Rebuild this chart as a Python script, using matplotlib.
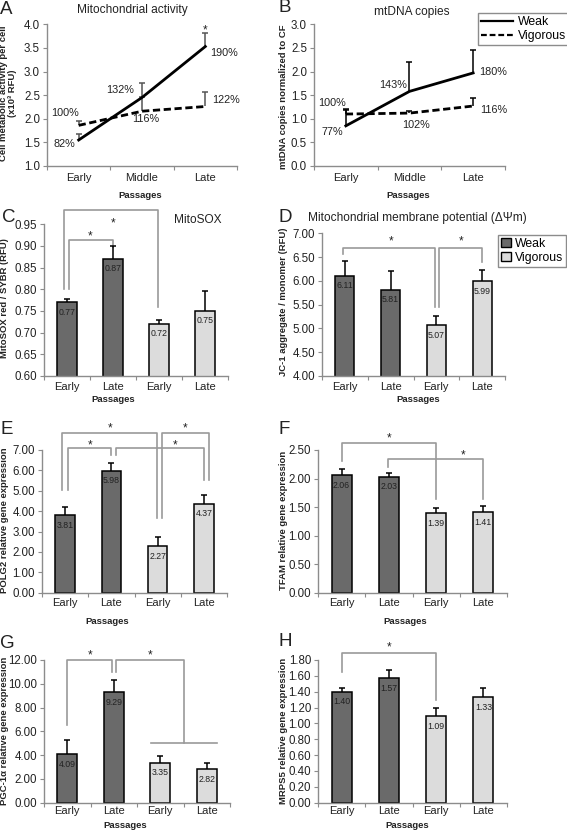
import matplotlib
matplotlib.use('Agg')
import matplotlib.pyplot as plt
import numpy as np
from matplotlib.patches import Patch
from matplotlib.lines import Line2D

plt.rcParams['font.family'] = ['Liberation Sans', 'DejaVu Sans']

# ---------------- data ----------------
passages3 = ['Early', 'Middle', 'Late']
passages4 = ['Early', 'Late', 'Early', 'Late']

act_weak = [1.55, 2.45, 3.53]
act_weak_err = [0.12, 0.30, 0.28]
act_vig = [1.86, 2.16, 2.26]
act_vig_err = [0.10, 0.30, 0.30]
act_weak_pct = ['82%', '132%', '190%']
act_vig_pct = ['100%', '116%', '122%']

mt_weak = [0.85, 1.58, 1.97]
mt_weak_err = [0.33, 0.62, 0.48]
mt_vig = [1.10, 1.12, 1.27]
mt_vig_err = [0.10, 0.05, 0.18]
mt_weak_pct = ['77%', '143%', '180%']
mt_vig_pct = ['100%', '102%', '116%']

mitosox = [0.77, 0.87, 0.72, 0.75]
mitosox_err = [0.008, 0.030, 0.010, 0.046]

jc1 = [6.11, 5.81, 5.07, 5.99]
jc1_err = [0.30, 0.39, 0.19, 0.24]

polg2 = [3.81, 5.98, 2.27, 4.37]
polg2_err = [0.37, 0.40, 0.45, 0.43]

tfam = [2.06, 2.03, 1.39, 1.41]
tfam_err = [0.10, 0.07, 0.09, 0.11]

pgc = [4.09, 9.29, 3.35, 2.82]
pgc_err = [1.21, 1.00, 0.60, 0.53]

mrps5 = [1.40, 1.57, 1.09, 1.33]
mrps5_err = [0.05, 0.10, 0.11, 0.12]

groups = ['Weak', 'Vigorous']

# ---------------- layout helpers ----------------
W, H = 567, 835
fig = plt.figure(figsize=(W / 100, H / 100), dpi=100)

def rect(l, r, t, b):
    return [l / W, 1 - b / H, (r - l) / W, (b - t) / H]

def ftxt(x, y, s, **kw):
    fig.text(x / W, 1 - y / H, s, **kw)

GRAY = '#8c8c8c'
BRK = '#9a9a9a'
DARK = '#6a6a6a'
LIGHT = '#dcdcdc'
TXT = '#222222'

def style(ax, ylim, yticks, fmt, cats, pad=5):
    ax.set_xlim(-0.5, len(cats) - 0.5)
    ax.set_ylim(*ylim)
    ax.set_yticks(yticks)
    ax.set_yticklabels([fmt % v for v in yticks], fontsize=8.3, color=TXT)
    ax.set_xticks(np.arange(len(cats) + 1) - 0.5)
    ax.set_xticklabels([])
    ax.set_xticks(np.arange(len(cats)), minor=True)
    ax.set_xticklabels(cats, minor=True, fontsize=8, color=TXT)
    ax.tick_params(axis='x', which='minor', length=0, pad=pad)
    ax.tick_params(axis='x', which='major', length=3, color=GRAY, direction='out')
    ax.tick_params(axis='y', length=3, color=GRAY, direction='out', pad=2)
    for s in ['top', 'right']:
        ax.spines[s].set_visible(False)
    for s in ['left', 'bottom']:
        ax.spines[s].set_color(GRAY)
        ax.spines[s].set_linewidth(1.0)

def upper_err(ax, x, vals, errs, color='black', lw=1.1):
    x = np.asarray(x, float)
    vals = np.asarray(vals, float)
    tops = vals + np.asarray(errs, float)
    ax.vlines(x, vals, tops, color=color, lw=lw, zorder=3, clip_on=False)
    ax.plot(x, tops, ls='none', marker='_', markersize=5, mew=lw, color=color,
            zorder=3, clip_on=False)

def bars(ax, vals, errs):
    x = np.arange(len(vals))
    colors = [DARK, DARK, LIGHT, LIGHT]
    ax.bar(x, vals, width=0.42, color=colors, edgecolor='black', linewidth=1.1,
           zorder=2)
    upper_err(ax, x, vals, errs)
    for xi, v in zip(x, vals):
        ax.annotate('%.2f' % v, (xi, v), xytext=(0, -10), textcoords='offset pixels',
                    ha='center', va='center', fontsize=6.3, color=TXT, zorder=4)

def bracket(ax, x1, x2, ytop, yl, yr):
    ax.plot([x1, x1, x2, x2], [yl, ytop, ytop, yr], color=BRK, lw=1.2,
            clip_on=False, zorder=1)

def star(ax, x, y):
    ax.annotate('*', (x, y), xytext=(0, -6), textcoords='offset pixels',
                ha='center', va='baseline', fontsize=8.5, color=TXT,
                annotation_clip=False)

def ylab(x, y, s):
    ftxt(x, y, s, rotation=90, ha='center', va='center', fontsize=6.8,
         fontweight='bold', color=TXT, linespacing=1.0)

def xlab(x, y):
    ftxt(x, y, 'Passages', ha='center', va='center', fontsize=6.8,
         fontweight='bold', color=TXT)

def letter(x, y, s):
    ftxt(x, y, s, ha='left', va='center', fontsize=13.5, color=TXT)

# ---------------- A ----------------
axA = fig.add_axes(rect(47, 237, 24.3, 166))
style(axA, (1.0, 4.0), np.arange(1.0, 4.01, 0.5), '%.1f', passages3)
x3 = np.arange(3)
axA.plot(x3, act_weak, color='black', lw=2, zorder=4)
axA.plot(x3, act_vig, color='black', lw=2, ls=(0, (2.6, 1.3)), zorder=4)
upper_err(axA, x3, act_vig, act_vig_err, color='#555555')
upper_err(axA, x3, act_weak, act_weak_err, color='#555555')
posA_w = [(-0.22, 1.46), (0.66, 2.61), (2.29, 3.39)]
posA_v = [(-0.22, 2.12), (1.06, 1.99), (2.33, 2.40)]
for (px, py), s in zip(posA_w, act_weak_pct):
    axA.text(px, py, s, ha='center', va='center', fontsize=7.8, color=TXT)
for (px, py), s in zip(posA_v, act_vig_pct):
    axA.text(px, py, s, ha='center', va='center', fontsize=7.8, color=TXT)
star(axA, 2.0, 3.94)
letter(0, 9, 'A')
ftxt(132, 10, 'Mitochondrial activity', ha='center', va='center', fontsize=8.6, color=TXT)
ylab(8, 93, 'Cell metabolic activity per cell\n(x10³ RFU)')
xlab(140, 196)

# ---------------- B ----------------
axB = fig.add_axes(rect(314, 505, 24.3, 166))
style(axB, (0.0, 3.0), np.arange(0.0, 3.01, 0.5), '%.1f', passages3)
axB.plot(x3, mt_weak, color='black', lw=2, zorder=4)
axB.plot(x3, mt_vig, color='black', lw=2, ls=(0, (2.6, 1.3)), zorder=4)
upper_err(axB, x3, mt_vig, mt_vig_err)
upper_err(axB, x3, mt_weak, mt_weak_err)
posB_w = [(-0.21, 0.72), (0.75, 1.71), (2.32, 1.99)]
posB_v = [(-0.22, 1.33), (1.10, 0.87), (2.32, 1.18)]
for (px, py), s in zip(posB_w, mt_weak_pct):
    axB.text(px, py, s, ha='center', va='center', fontsize=7.8, color=TXT)
for (px, py), s in zip(posB_v, mt_vig_pct):
    axB.text(px, py, s, ha='center', va='center', fontsize=7.8, color=TXT)
letter(279, 8, 'B')
ftxt(412, 12, 'mtDNA copies', ha='center', va='center', fontsize=8.6, color=TXT)
ylab(284, 97, 'mtDNA copies normalized to CF')
xlab(408, 196)
legB = fig.legend([Line2D([], [], color='black', lw=1.6),
                   Line2D([], [], color='black', lw=1.6, ls=(0, (2.6, 1.3)))],
                  groups, loc='upper left', bbox_to_anchor=(478 / W, 1 - 13 / H),
                  bbox_transform=fig.transFigure, fontsize=8.8, frameon=True,
                  fancybox=False, edgecolor=GRAY, framealpha=1, borderpad=0.25,
                  labelspacing=0.15, handlelength=2.6, handletextpad=0.4,
                  borderaxespad=0)
legB.get_frame().set_linewidth(1.0)

# ---------------- C ----------------
axC = fig.add_axes(rect(44, 228, 224.3, 376))
style(axC, (0.60, 0.95), np.arange(0.60, 0.951, 0.05), '%.2f', passages4, pad=4)
bars(axC, mitosox, mitosox_err)
bracket(axC, -0.07, 1.97, 0.983, 0.80, 0.76)
bracket(axC, 0.04, 1.0, 0.914, 0.80, 0.898)
star(axC, 1.0, 0.96)
star(axC, 0.5, 0.93)
letter(2, 217, 'C')
ftxt(198, 220, 'MitoSOX', ha='center', va='center', fontsize=8.6, color=TXT)
ylab(5, 298, 'MitoSOX red / SYBR (RFU)')
xlab(113, 399)

# ---------------- D ----------------
axD = fig.add_axes(rect(322, 505, 233.3, 376))
style(axD, (4.0, 7.0), np.arange(4.0, 7.01, 0.5), '%.2f', passages4, pad=4)
bars(axD, jc1, jc1_err)
bracket(axD, -0.04, 1.97, 6.70, 6.57, 5.45)
bracket(axD, 2.06, 3.0, 6.70, 5.45, 6.40)
star(axD, 1.0, 6.90)
star(axD, 2.54, 6.90)
letter(279, 218, 'D')
ftxt(417, 218, 'Mitochondrial membrane potential (ΔΨm)', ha='center', va='center',
     fontsize=8.6, color=TXT)
ylab(284, 302, 'JC-1 aggregate / monomer (RFU)')
xlab(418, 399)
legD = fig.legend([Patch(facecolor=DARK, edgecolor='black', lw=1.0),
                   Patch(facecolor=LIGHT, edgecolor='black', lw=1.0)],
                  groups, loc='upper left', bbox_to_anchor=(498 / W, 1 - 235 / H),
                  bbox_transform=fig.transFigure, fontsize=8.8, frameon=True,
                  fancybox=False, edgecolor=GRAY, framealpha=1, borderpad=0.25,
                  labelspacing=0.15, handlelength=0.8, handleheight=0.8,
                  handletextpad=0.3, borderaxespad=0)
legD.get_frame().set_linewidth(1.0)

# ---------------- E ----------------
axE = fig.add_axes(rect(42, 227, 450, 592.7))
style(axE, (0.0, 7.0), np.arange(0.0, 7.01, 1.0), '%.2f', passages4, pad=4)
bars(axE, polg2, polg2_err)
bracket(axE, -0.06, 1.99, 7.82, 5.04, 3.67)
bracket(axE, 0.06, 1.0, 7.08, 5.04, 6.75)
bracket(axE, 2.10, 3.12, 7.82, 3.67, 5.53)
bracket(axE, 1.09, 3.0, 7.08, 6.75, 5.53)
star(axE, 0.98, 8.22)
star(axE, 0.54, 7.39)
star(axE, 2.60, 8.22)
star(axE, 2.37, 7.39)
letter(0, 429, 'E')
ylab(5, 520, 'POLG2 relative gene expression')
xlab(107, 621)

# ---------------- F ----------------
axF = fig.add_axes(rect(318, 507, 450, 592.7))
style(axF, (0.0, 2.5), np.arange(0.0, 2.51, 0.5), '%.2f', passages4, pad=4)
bars(axF, tfam, tfam_err)
bracket(axF, 0.0, 2.0, 2.62, 2.30, 1.64)
bracket(axF, 0.99, 2.99, 2.34, 2.21, 1.64)
star(axF, 1.0, 2.76)
star(axF, 2.56, 2.46)
letter(279, 429, 'F')
ylab(284, 520, 'TFAM relative gene expression')
xlab(405, 621)

# ---------------- G ----------------
axG = fig.add_axes(rect(44, 230, 660, 802.7))
style(axG, (0.0, 12.0), np.arange(0.0, 12.01, 2.0), '%.2f', passages4, pad=2.5)
bars(axG, pgc, pgc_err)
bracket(axG, 0.0, 0.97, 12.0, 6.54, 11.0)
bracket(axG, 1.04, 2.5, 12.0, 11.0, 5.0)
axG.plot([1.81, 3.22], [5.0, 5.0], color=BRK, lw=1.2, clip_on=False, zorder=1)
star(axG, 0.48, 12.67)
star(axG, 1.79, 12.67)
letter(0, 643, 'G')
ylab(5, 731, 'PGC-1α relative gene expression')
xlab(125, 825)

# ---------------- H ----------------
axH = fig.add_axes(rect(318, 507, 660, 802.7))
style(axH, (0.0, 1.8), np.arange(0.0, 1.81, 0.2), '%.2f', passages4, pad=2.5)
bars(axH, mrps5, mrps5_err)
bracket(axH, 0.0, 2.0, 1.885, 1.65, 1.30)
star(axH, 1.0, 1.99)
letter(279, 642, 'H')
ylab(284, 731, 'MRPS5 relative gene expression')
xlab(407, 825)

fig.savefig('out.png', dpi=100)
